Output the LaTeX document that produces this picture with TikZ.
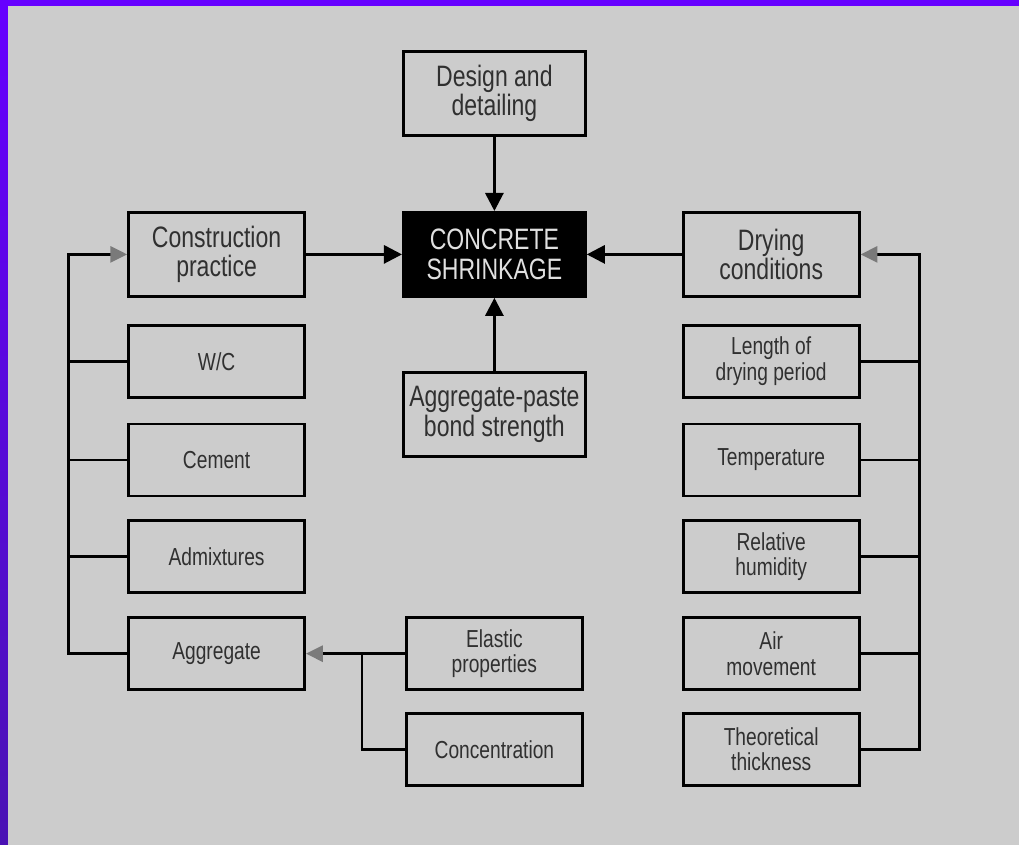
\documentclass[tikz,border=0pt]{standalone}
\usepackage{fontspec}
\setmainfont{Liberation Sans}[FakeStretch=0.78]
\usepackage{tikz}
\usetikzlibrary{arrows.meta, positioning}
\usetikzlibrary{calc}

\definecolor{panelgray}{HTML}{CCCCCC}
\definecolor{framepurple}{HTML}{6600FF}
\definecolor{framedark}{HTML}{4A12B4}
\definecolor{txtgray}{HTML}{303030}
\definecolor{tipgray}{HTML}{7A7A7A}

\newcommand{\labbig}{\fontsize{21}{21}\selectfont}
\newcommand{\labsmall}{\fontsize{17.5}{18}\selectfont}

\begin{document}
\begin{tikzpicture}[
    box/.style={draw, line width=2pt, rectangle, minimum width=4.4cm, minimum height=1.8cm, align=center, text=txtgray, font=\labsmall},
    bigbox/.style={box, minimum height=2.1cm, font=\labbig},
    line/.style={line width=2pt},
    arrow/.style={-{Triangle[length=0.45cm, width=0.45cm]}, line width=2pt},
    grayarrow/.style={-{Triangle[length=0.42cm, width=0.4cm, color=tipgray]}, line width=2pt}
]

% Frame and panel
\useasboundingbox (0,0) rectangle (25.475,-21.125);
\fill[framepurple] (0,0) rectangle (25.475,-21.125);
\shade[top color=framepurple, bottom color=framedark] (0,-0.15) rectangle (0.2,-21.125);
\fill[panelgray] (0.2,-0.15) rectangle (25.475,-21.125);

% Nodes
\node[bigbox, fill=black, text=white!88!black, minimum width=4.55cm] (shrink) at (12.36,-6.36) {CONCRETE\\SHRINKAGE};
\node[bigbox, above=1.85cm of shrink, minimum width=4.55cm] (design) {Design and\\detailing};
\node[bigbox, below=1.825cm of shrink, minimum width=4.55cm] (bond) {Aggregate-paste\\bond strength};
\node[bigbox, left=2.4cm of shrink] (constr) {Construction\\practice};
\node[bigbox, right=2.375cm of shrink] (drying) {Drying\\conditions};

% Left column
\node[box, below=0.65cm of constr] (wc) {W/C};
\node[box, below=0.6cm of wc] (cement) {Cement};
\node[box, below=0.55cm of cement] (admix) {Admixtures};
\node[box, below=0.55cm of admix] (aggr) {Aggregate};

% Right column
\node[box, below=0.65cm of drying] (length) {Length of\\drying period};
\node[box, below=0.6cm of length] (temp) {Temperature};
\node[box, below=0.55cm of temp] (humid) {Relative\\humidity};
\node[box, below=0.55cm of humid] (air) {Air\\movement};
\node[box, below=0.525cm of air] (thick) {Theoretical\\thickness};

% Aggregate factors
\node[box, right=2.475cm of aggr] (elastic) {Elastic\\properties};
\node[box, below=0.525cm of elastic] (conc) {Concentration};

% Arrows
\draw[arrow] (design) -- (shrink);
\draw[arrow] (bond) -- (shrink);
\draw[arrow] (constr) -- (shrink);
\draw[arrow] (drying) -- (shrink);

% Bus lines
\coordinate (lbus) at ($(constr.west)+(-1.475cm,0)$);
\coordinate (rbus) at ($(drying.east)+(1.475cm,0)$);
\coordinate (ebus) at ($(elastic.west)+(-1.075cm,0)$);

\draw[grayarrow] (aggr.west) -| (lbus) -- (constr.west);
\foreach \n in {wc, cement, admix}
    \draw[line] (\n.west) -- (\n.west -| lbus);

\draw[grayarrow] (thick.east) -| (rbus) -- (drying.east);
\foreach \n in {length, temp, humid, air}
    \draw[line] (\n.east) -- (\n.east -| rbus);

\draw[grayarrow] (conc.west) -| (ebus) -- (aggr.east);
\draw[line] (elastic.west) -- (ebus);

\end{tikzpicture}
\end{document}
